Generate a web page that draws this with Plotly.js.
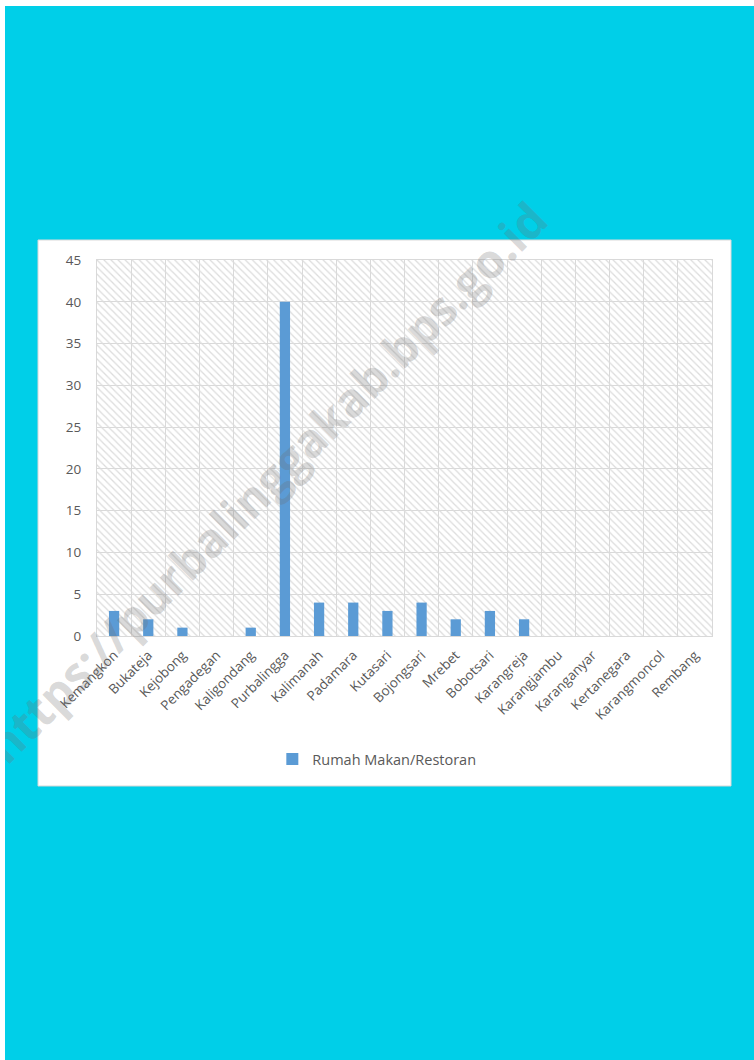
<!DOCTYPE html>
<html>
<head>
<meta charset="utf-8">
<script src="https://cdn.plot.ly/plotly-3.0.1.min.js"></script>
<style>
  html, body { margin: 0; padding: 0; background: #ffffff; }
  #chart { position: absolute; left: 5px; top: 6px; width: 749px; height: 1054px; }
</style>
</head>
<body>
<div id="chart"></div>
<script>
const categories = ["Kemangkon", "Bukateja", "Kejobong", "Pengadegan", "Kaligondang", "Purbalingga",
  "Kalimanah", "Padamara", "Kutasari", "Bojongsari", "Mrebet", "Bobotsari", "Karangreja",
  "Karangjambu", "Karanganyar", "Kertanegara", "Karangmoncol", "Rembang"];
const restoran = [3, 2, 1, 0, 1, 40, 4, 4, 3, 4, 2, 3, 2, 0, 0, 0, 0, 0];
const seriesName = "Rumah Makan/Restoran";
const yTicks = [0, 5, 10, 15, 20, 25, 30, 35, 40, 45];
const yMax = 45;
const watermark = "https://purbalinggakab.bps.go.id";

const font = "'Open Sans', 'Segoe UI', 'DejaVu Sans', sans-serif";
const gridColor = "#d9d9d9";
const textColor = "#595959";

const hatch = {
  type: "bar",
  x: categories,
  y: categories.map(() => yMax),
  width: 1,
  marker: {
    color: "rgba(0,0,0,0)",
    line: { width: 0 },
    pattern: { shape: "\\", size: 5, solidity: 0.25, fgcolor: "#dcdcdc", bgcolor: "rgba(0,0,0,0)" }
  },
  hoverinfo: "skip",
  showlegend: false
};

const bars = {
  type: "bar",
  name: seriesName,
  x: categories,
  y: restoran,
  width: 0.3,
  marker: { color: "#5b9bd5", line: { width: 0 } }
};

const layout = {
  width: 749,
  height: 1054,
  margin: { l: 92, r: 42, t: 254, b: 424 },
  paper_bgcolor: "#00cfe8",
  plot_bgcolor: "#ffffff",
  barmode: "overlay",
  font: { family: font, color: textColor, size: 12 },
  xaxis: {
    type: "category",
    tickson: "boundaries",
    tickangle: -45,
    showgrid: true,
    gridcolor: gridColor,
    gridwidth: 1,
    showline: true,
    linecolor: gridColor,
    mirror: true,
    ticks: "",
    ticklabelstandoff: 5,
    tickfont: { family: font, size: 13.5, color: textColor },
    fixedrange: true
  },
  yaxis: {
    range: [0, yMax],
    tickvals: yTicks,
    showgrid: true,
    gridcolor: gridColor,
    gridwidth: 1,
    zeroline: false,
    showline: true,
    linecolor: gridColor,
    mirror: true,
    ticks: "",
    ticklabelstandoff: 12,
    tickfont: { family: font, size: 13.5, color: textColor },
    fixedrange: true
  },
  showlegend: true,
  legend: {
    orientation: "h",
    x: 0.455,
    xanchor: "center",
    y: -0.327,
    yanchor: "middle",
    bgcolor: "rgba(0,0,0,0)",
    itemwidth: 30,
    font: { family: font, size: 14.5, color: textColor }
  },
  shapes: [
    {
      type: "rect", xref: "paper", yref: "paper",
      x0: -0.0959, x1: 1.0309, y0: -0.3989, y1: 1.0532,
      fillcolor: "#ffffff", line: { color: "#d9d9d9", width: 1 },
      layer: "below"
    }
  ],
  annotations: [
    {
      text: "<b>" + watermark + "</b>",
      xref: "paper", yref: "paper",
      x: 0.275, y: 0.41,
      xanchor: "center", yanchor: "middle",
      showarrow: false,
      textangle: -45,
      font: { family: font, size: 47, color: "rgba(110,110,110,0.27)" }
    }
  ]
};

Plotly.newPlot("chart", [hatch, bars], layout, { displayModeBar: false, staticPlot: true });
</script>
</body>
</html>
